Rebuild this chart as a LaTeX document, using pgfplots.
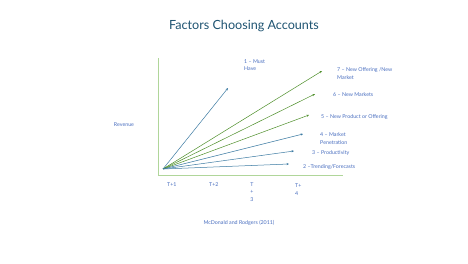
\documentclass[border=0pt]{standalone}
\usepackage{fontspec}
\setmainfont{Lato}
\usepackage{pgfplots}
\pgfplotsset{compat=1.18}
\usetikzlibrary{arrows.meta}
\definecolor{titlec}{HTML}{1F5472}
\definecolor{labc}{HTML}{4A6FC0}
\definecolor{bluear}{HTML}{3D7BA3}
\definecolor{greenar}{HTML}{4E8F2A}
\definecolor{axc}{HTML}{B0D69A}
\begin{document}
\begin{tikzpicture}
\begin{axis}[
  scale only axis, width=468pt, height=263pt,
  xmin=0, xmax=468, ymin=0, ymax=263,
  hide axis, clip=false,
  every axis plot/.append style={line width=0.5pt},
]
\path[fill=white] (axis cs:0,0) rectangle (axis cs:468,263);
% axes
\addplot[axc, line width=0.8pt, no marks] coordinates {(158,205) (158,88) (343,88)};
% arrows
\addplot[bluear, no marks, -{Stealth[length=2.5pt,width=2.2pt]}] coordinates {(163,94) (228,175)};
\addplot[greenar, no marks, -{Stealth[length=2.5pt,width=2.2pt]}] coordinates {(163,94) (322,192)};
\addplot[greenar, no marks, -{Stealth[length=2.5pt,width=2.2pt]}] coordinates {(163,94) (315,169)};
\addplot[greenar, no marks, -{Stealth[length=2.5pt,width=2.2pt]}] coordinates {(163,94) (309,148)};
\addplot[bluear, no marks, -{Stealth[length=2.5pt,width=2.2pt]}] coordinates {(163,94) (303,129)};
\addplot[bluear, no marks, -{Stealth[length=2.5pt,width=2.2pt]}] coordinates {(163,94) (294,112)};
\addplot[bluear, no marks, -{Stealth[length=2.5pt,width=2.2pt]}] coordinates {(163,94) (289,99)};
% labels
\begin{scope}[every node/.style={font=\fontsize{5.3}{7.2}\selectfont, text=labc, inner sep=0pt, align=left}]
\node[anchor=west] at (axis cs:244,198) {1 -- Must\\Have};
\node[anchor=west] at (axis cs:337,189.5) {7 -- New Offering /New\\Market};
\node[anchor=west] at (axis cs:333,168) {6 -- New Markets};
\node[anchor=west] at (axis cs:321,146) {5 -- New Product or Offering};
\node[anchor=west] at (axis cs:320,124.5) {4 -- Market\\Penetration};
\node[anchor=west] at (axis cs:312,110) {3 -- Productivity};
\node[anchor=west] at (axis cs:303,96) {2 --Trending/Forecasts};
\node at (axis cs:124,138) {Revenue};
\node[anchor=west] at (axis cs:167,78) {T+1};
\node[anchor=west] at (axis cs:209,78) {T+2};
\node[align=center] at (axis cs:252,71) {T\\+\\3};
\node[anchor=west] at (axis cs:295,73.5) {T+\\4};
\node at (axis cs:239,40) {McDonald and Rodgers (2011)};
\end{scope}
\node[font=\fontsize{12.6}{14}\selectfont, text=titlec, inner sep=0pt] at (axis cs:244,237) {Factors Choosing Accounts};
\end{axis}
\end{tikzpicture}
\end{document}
